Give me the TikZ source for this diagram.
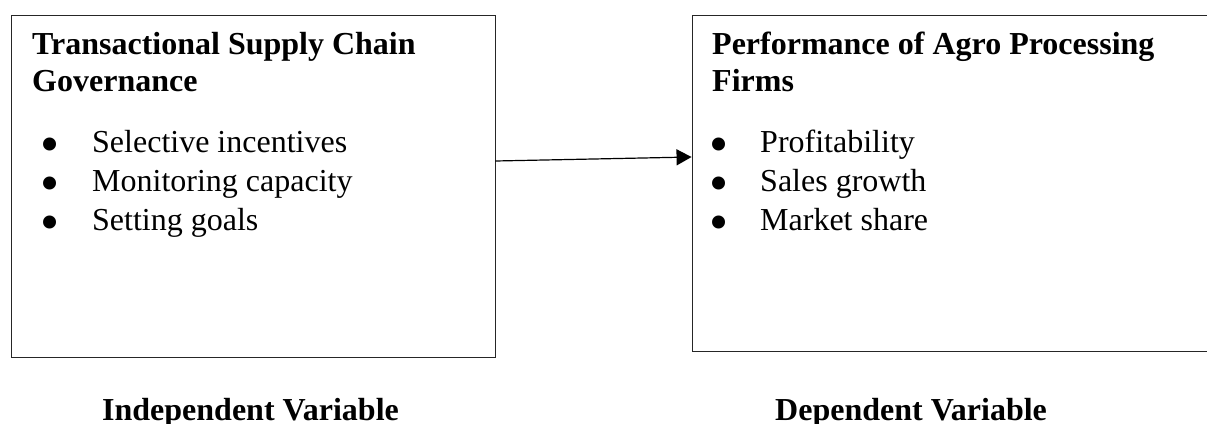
\documentclass[tikz,border=0pt]{standalone}
\usepackage{fontspec}
\setmainfont{Liberation Serif}
\usetikzlibrary{arrows.meta, positioning}
\newcommand{\bigdot}{\raisebox{-10.5pt}[0pt][0pt]{\scalebox{1.7}{\textbullet}}}

\begin{document}
\begin{tikzpicture}[
  x=1pt, y=-1pt,
  varbox/.style={draw=black!85, line width=0.9pt, inner sep=0pt},
  head/.style={anchor=base west, align=left, inner sep=0pt, font=\fontsize{32}{37}\selectfont\bfseries},
  items/.style={anchor=base west, align=left, inner sep=0pt, font=\fontsize{32}{39}\selectfont},
  lbl/.style={anchor=base west, inner sep=0pt, font=\fontsize{32}{37}\selectfont\bfseries},
  arr/.style={-{Triangle[length=15pt, width=16pt]}, line width=1.2pt}
]
\useasboundingbox (0,0) rectangle (1207,423);
\clip (0,0) rectangle (1207,423);

% boxes
\node[varbox, minimum width=484pt, minimum height=342pt] (tscg) at (253,186) {};
\node[varbox, minimum width=528pt, minimum height=336pt] (perf) at (956,183) {};

% left box text (base = last line)
\node[head] (tscghead) at (32,91) {Transactional Supply Chain\\Governance};
\node[items] (tscgitems) at (40.5,230) {\makebox[51.5pt][l]{\bigdot}Selective incentives\\
  \makebox[51.5pt][l]{\bigdot}Monitoring capacity\\
  \makebox[51.5pt][l]{\bigdot}Setting goals};

% right box text
\node[head] (perfhead) at (712,91) {Performance of Agro Processing\\Firms};
\node[items] (perfitems) at (709.5,230) {\makebox[50.5pt][l]{\bigdot}Profitability\\
  \makebox[50.5pt][l]{\bigdot}Sales growth\\
  \makebox[50.5pt][l]{\bigdot}Market share};

% variable labels
\node[lbl] (indep) at (102,420) {Independent Variable};
\node[lbl] (dep) at (775,420) {Dependent Variable};

\draw[arr] ([yshift=25pt]tscg.east) -- ([yshift=26pt]perf.west);

\end{tikzpicture}
\end{document}
